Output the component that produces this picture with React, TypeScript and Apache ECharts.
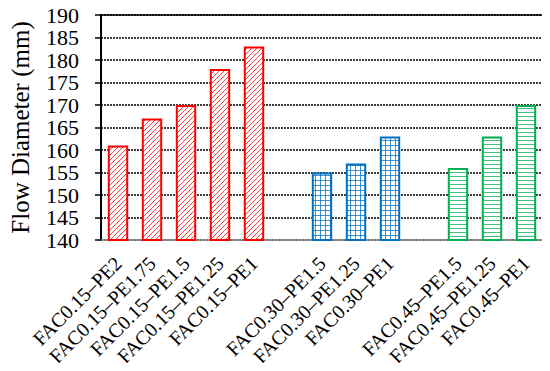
import React, { useEffect, useRef } from "react";
import * as echarts from "echarts";

const categories = [
  "FAC0.15–PE2", "FAC0.15–PE1.75", "FAC0.15–PE1.5", "FAC0.15–PE1.25", "FAC0.15–PE1",
  "",
  "FAC0.30–PE1.5", "FAC0.30–PE1.25", "FAC0.30–PE1",
  "",
  "FAC0.45–PE1.5", "FAC0.45–PE1.25", "FAC0.45–PE1",
];
const values: (number | null)[] = [161, 167, 170, 178, 183, null, 155, 157, 163, null, 156, 163, 170];
const groups = [0, 0, 0, 0, 0, -1, 1, 1, 1, -1, 2, 2, 2];
const groupColors = ["#ff0000", "#0070c0", "#00b050"];
const yTicks = { min: 140, max: 190, interval: 5 };
const yTitle = "Flow Diameter (mm)";

function makePattern(kind: number, color: string) {
  const c = document.createElement("canvas");
  const s = kind === 2 ? 4 : 5;
  c.width = s;
  c.height = s;
  const ctx = c.getContext("2d")!;
  ctx.fillStyle = "#ffffff";
  ctx.fillRect(0, 0, s, s);
  ctx.strokeStyle = color;
  ctx.lineWidth = 1;
  ctx.globalAlpha = 0.75;
  ctx.beginPath();
  if (kind === 0) {
    ctx.moveTo(-1, s + 1);
    ctx.lineTo(s + 1, -1);
    ctx.moveTo(-1, 1);
    ctx.lineTo(1, -1);
    ctx.moveTo(s - 1, s + 1);
    ctx.lineTo(s + 1, s - 1);
  } else if (kind === 1) {
    ctx.moveTo(0.5, 0);
    ctx.lineTo(0.5, s);
    ctx.moveTo(0, 0.5);
    ctx.lineTo(s, 0.5);
  } else {
    ctx.moveTo(0, 0.5);
    ctx.lineTo(s, 0.5);
  }
  ctx.stroke();
  return { image: c, repeat: "repeat", imageWidth: s, imageHeight: s };
}

export default function App() {
  const ref = useRef<HTMLDivElement>(null);
  useEffect(() => {
    const chart = echarts.init(ref.current!, null, { renderer: "svg" });
    const patterns = groupColors.map((col, i) => makePattern(i, col));
    const data = values.map((v, i) => {
      const g = groups[i];
      if (v == null || g < 0) return "-";
      return {
        value: v,
        itemStyle: {
          color: patterns[g] as any,
          borderColor: groupColors[g],
          borderWidth: 2,
        },
      };
    });
    const font = "'Liberation Serif', 'Times New Roman', serif";
    const step = (v: number) => Math.round((v - yTicks.min) / yTicks.interval);
    const labelBase = {
      fontFamily: font,
      fontSize: 22,
      lineHeight: 20,
      color: "#000",
      margin: 22,
    };
    chart.setOption({
      animation: false,
      grid: { left: 93, right: 7, top: 15, bottom: 131 },
      xAxis: [
        {
          type: "category",
          data: categories,
          axisLine: { lineStyle: { color: "#888", width: 1.5 } },
          axisTick: { show: false },
          axisLabel: {
            interval: 0,
            rotate: 45,
            fontFamily: font,
            fontSize: 20,
            color: "#000",
            margin: 20,
          },
        },
        {
          type: "category",
          position: "top",
          data: categories,
          axisLine: { lineStyle: { color: "#000", width: 1.5 } },
          axisTick: { show: false },
          axisLabel: { show: false },
        },
      ],
      yAxis: [
        {
          type: "value",
          min: yTicks.min,
          max: yTicks.max,
          interval: yTicks.interval,
          name: yTitle,
          nameLocation: "middle",
          nameGap: 68,
          nameTextStyle: { fontFamily: font, fontSize: 25, color: "#000" },
          axisLine: { show: true, lineStyle: { color: "#000", width: 2 } },
          axisTick: { show: true, length: 6, lineStyle: { color: "#000", width: 1.5 } },
          axisLabel: {
            ...labelBase,
            showMinLabel: true,
            showMaxLabel: true,
            formatter: (v: number) => (step(v) % 2 === 0 ? String(v) : ""),
          },
          splitLine: { lineStyle: { color: "#000", type: [2, 1], width: 1.5 } },
        },
        {
          type: "value",
          position: "left",
          min: yTicks.min,
          max: yTicks.max,
          interval: yTicks.interval,
          axisLine: { show: false },
          axisTick: { show: false },
          axisLabel: {
            ...labelBase,
            showMinLabel: false,
            showMaxLabel: false,
            formatter: (v: number) => (step(v) % 2 === 1 ? String(v) : ""),
          },
          splitLine: { show: false },
        },
        {
          type: "value",
          position: "right",
          min: yTicks.min,
          max: yTicks.max,
          interval: yTicks.interval,
          axisLine: { show: true, lineStyle: { color: "#000", width: 1.5 } },
          axisTick: { show: false },
          axisLabel: { show: false },
          splitLine: { show: false },
        },
      ],
      series: [
        {
          type: "bar",
          data,
          barWidth: "60%",
          xAxisIndex: 0,
          yAxisIndex: 0,
        },
      ],
    });
    return () => chart.dispose();
  }, []);
  return <div ref={ref} style={{ width: 550, height: 371, margin: -8 }} />;
}
